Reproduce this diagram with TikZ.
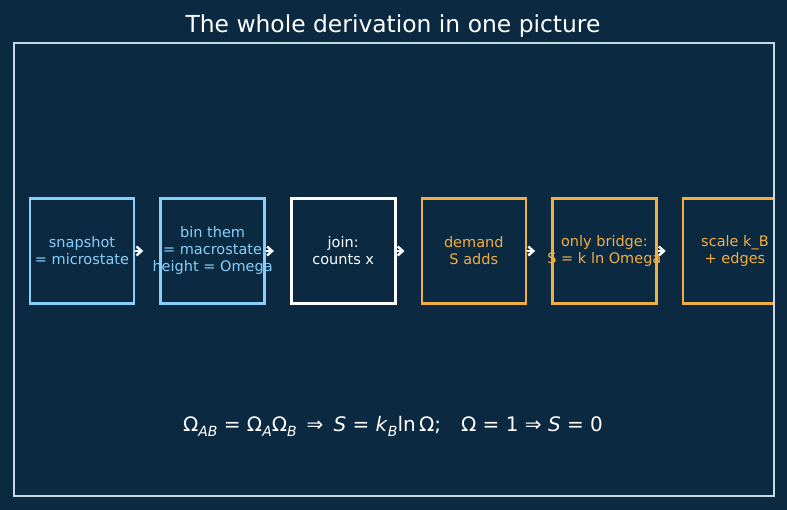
\documentclass[tikz,border=0pt]{standalone}
\usepackage{fontspec}
\setmainfont{DejaVu Sans}
\usetikzlibrary{positioning,arrows.meta}
\definecolor{navybg}{HTML}{0B2A41}
\definecolor{framegray}{HTML}{C4D8E6}
\definecolor{skyline}{HTML}{87CEFA}
\definecolor{amberline}{HTML}{F2AE42}
\newcommand{\lowsub}[1]{\raisebox{-0.25em}{\fontsize{14}{14}\selectfont\itshape #1}}
\begin{document}
\begin{tikzpicture}[x=1pt,y=-1pt,
  font=\fontsize{14.5}{17}\selectfont,
  node distance=24pt,
  stage/.style={draw,line width=2.6pt,minimum width=104pt,minimum height=105pt,
    inner sep=0pt},
  micro/.style={stage,draw=skyline,label={[align=center,text=skyline]center:#1}},
  plain/.style={stage,draw=white,label={[align=center,text=white]center:#1}},
  demand/.style={stage,draw=amberline,label={[align=center,text=amberline]center:#1}},
  chev/.style={draw=white,line width=2.4pt,-{Straight Barb[length=5pt,width=9pt]}}]
\fill[navybg] (0,0) rectangle (787,510);
\useasboundingbox (0,0) rectangle (787,510);
\node[text=white,font=\fontsize{23.4}{28}\selectfont] (title) at (393,26) {The whole derivation in one picture};
\begin{scope}
  \clip (14,43) rectangle (774,496);
  \node[micro={snapshot\\= microstate}] (snap) at (82,251) {};
  \node[micro={bin them\\= macrostate\\height = Omega},right=of snap] (bin) {};
  \node[plain={join:\\counts x},right=of bin] (join) {};
  \node[demand={demand\\S adds},right=of join] (adds) {};
  \node[demand={only bridge:\\S = k ln Omega},right=of adds] (bridge) {};
  \node[demand={scale k\_B\\+ edges},right=of bridge] (scale) {};
\end{scope}
% chevrons between the stages
\foreach \a in {snap,bin,join,adds,bridge}
  \draw[chev] (\a.east) -- ([xshift=8pt]\a.east);
\node[text=white,font=\fontsize{20}{24}\selectfont] (law) at (393,426)
  {Ω\lowsub{AB} = Ω\lowsub{A}Ω\lowsub{B}\enspace⇒\enspace\textit{S} = \textit{k}\lowsub{B}ln\,Ω;\quad Ω = 1 ⇒ \textit{S} = 0};
\draw[framegray,line width=1.3pt] (14,43) rectangle (774,496);
\end{tikzpicture}
\end{document}
